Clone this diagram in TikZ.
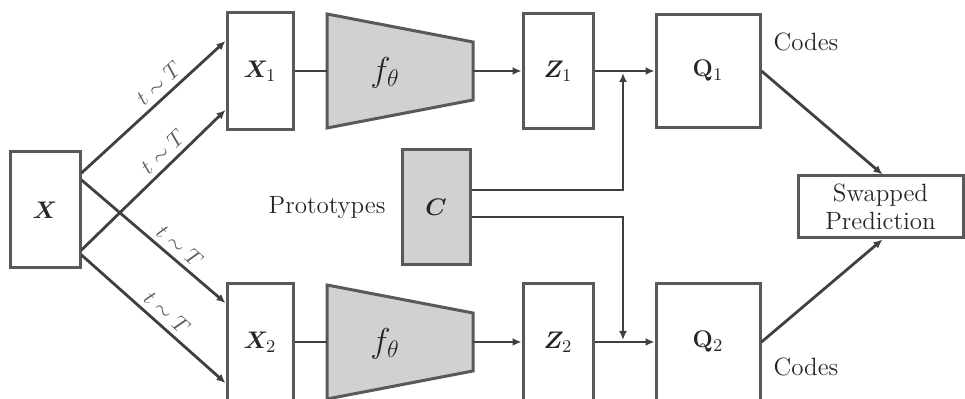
\documentclass[tikz,border=0pt]{standalone}
\usepackage{amsmath,bm}
\usetikzlibrary{positioning,arrows.meta}

\begin{document}
\begin{tikzpicture}
		[x=0.5pt,y=-0.5pt,
		every node/.style={font=\fontsize{12.5}{15}\selectfont, text=black!85},
		whitebox/.style={rectangle, draw=black!65, fill=white, line width=1.5pt, inner sep=0pt},
		graybox/.style={whitebox, fill=black!18},
		link/.style={draw=black!75, line width=1.4pt},
		arr/.style={link, -{Latex[length=4.5pt,width=4pt]}},
		tlabel/.style={font=\fontsize{10.5}{12}\selectfont, text=black!65, sloped, above=1.5pt, inner sep=1pt},
		]
		\useasboundingbox (0,0) rectangle (965,399);
		
		%Nodes
		\node[whitebox, minimum width=35pt, minimum height=58pt](x) at (45,210) {$\bm{X}$};
		\node[whitebox, minimum width=33pt, minimum height=58.5pt](x1) at (260,71) {$\bm{X}_1$};
		\node[whitebox, minimum width=33pt, minimum height=58.5pt](x2) at (260,342) {$\bm{X}_2$};
		\node[whitebox, minimum width=35pt, minimum height=57.5pt](z1) at (558,71) {$\bm{Z}_1$};
		\node[whitebox, minimum width=35pt, minimum height=58.5pt](z2) at (558,342) {$\bm{Z}_2$};
		\node[whitebox, minimum width=52pt, minimum height=56.5pt](q1) at (708,71) {$\mathbf{Q}_1$};
		\node[whitebox, minimum width=52pt, minimum height=58.5pt](q2) at (708,342) {$\mathbf{Q}_2$};
		\node[graybox, minimum width=34pt, minimum height=57.5pt](c) at (436,207.5) {$\bm{C}$};
		\node(protos)[left=4pt of c] {Prototypes};
		\node(codes1) at (806,42) {Codes};
		\node(codes2) at (806,367) {Codes};
		\node[whitebox, minimum width=82.5pt, minimum height=31pt, align=center](swap) at (880.5,207) {Swapped\\[-1pt]Prediction};
		
		%Encoders
		\draw[graybox] (327,14) -- (473,42) -- (473,100) -- (327,128) -- cycle;
		\draw[graybox] (327,285) -- (473,313) -- (473,371) -- (327,399) -- cycle;
		\coordinate (enc1in) at (327,71);
		\coordinate (enc1out) at (473,71);
		\coordinate (enc2in) at (327,342);
		\coordinate (enc2out) at (473,342);
		\node[font=\fontsize{17}{20}\selectfont](enc1) at (385,73) {$f_\theta$};
		\node[font=\fontsize{17}{20}\selectfont](enc2) at (385,344) {$f_\theta$};
		\coordinate (join1) at (623,73);
		\coordinate (join2) at (623,340);
		
		%Lines
		\draw[arr]([yshift=18.5pt]x.east) -- node[tlabel, pos=0.6] {$t\sim T$} ([yshift=15pt]x1.west);
		\draw[arr]([yshift=-20pt]x.east) -- node[tlabel, pos=0.63] {$t\sim T$} ([yshift=-19.5pt]x1.west);
		\draw[arr]([yshift=15pt]x.east) -- node[tlabel, pos=0.62] {$t\sim T$} ([yshift=19.5pt]x2.west);
		\draw[arr]([yshift=-22.5pt]x.east) -- node[tlabel, pos=0.53] {$t\sim T$} ([yshift=-20.5pt]x2.west);
		\draw[link](x1.east) -- (enc1in);
		\draw[link](x2.east) -- (enc2in);
		\draw[arr](enc1out) -- (z1.west);
		\draw[arr](enc2out) -- (z2.west);
		\draw[arr](z1.east) -- (q1.west);
		\draw[arr](z2.east) -- (q2.west);
		\draw[arr]([yshift=8.75pt]c.east) -| (join1);
		\draw[arr]([yshift=-4.75pt]c.east) -| (join2);
		\draw[arr](q1.east) -- ([xshift=1pt]swap.north);
		\draw[arr](q2.east) -- ([xshift=1pt]swap.south);
	\end{tikzpicture}
\end{document}
